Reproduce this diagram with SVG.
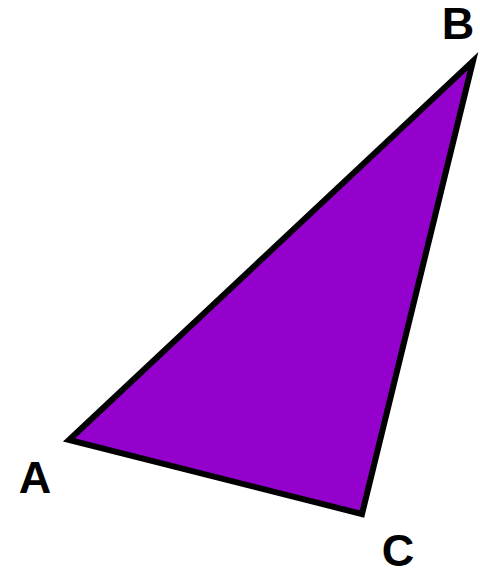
<svg xmlns="http://www.w3.org/2000/svg" width="480" height="573" viewBox="0 0 480 573">
<style>
.lbl{font-family:"Liberation Sans",Arial,sans-serif;font-weight:bold;font-size:45px;fill:#000;text-anchor:middle}
</style>
<rect width="480" height="573" fill="#fff"/>
<g id="triangle">
<polygon points="69,440 473,61 362,514" fill="#9400CC" stroke="#000" stroke-width="6" stroke-linejoin="miter" stroke-miterlimit="10"/>
</g>
<g id="labels">
<text class="lbl" x="35" y="493">A</text>
<text class="lbl" x="458" y="39">B</text>
<text class="lbl" x="398" y="566">C</text>
</g>
</svg>
